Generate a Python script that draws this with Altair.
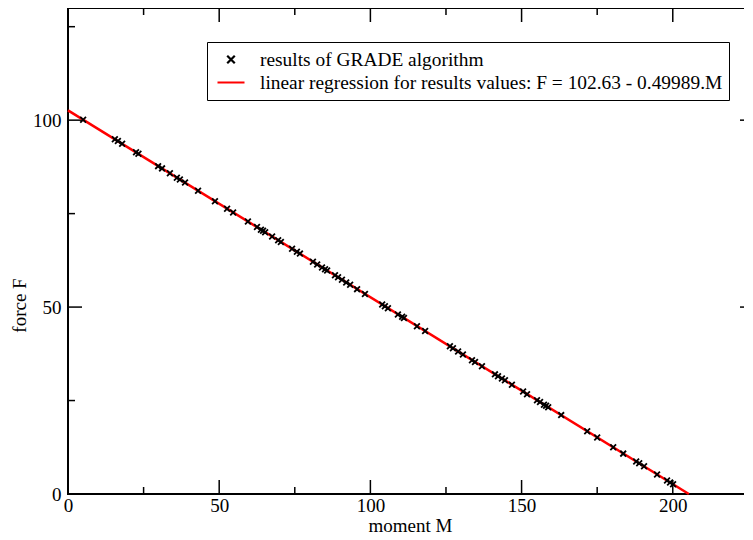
import altair as alt
import pandas as pd

# Results of GRADE algorithm (moment M, force F)
moment = [5.0, 15.5, 16.5, 17.9, 22.5, 23.3, 29.8, 31.1, 33.7, 36.0, 37.0, 38.7,
          43.0, 48.6, 52.6, 54.6, 59.5, 62.5, 63.8, 64.5, 65.2, 67.5, 69.5, 70.4,
          74.1, 75.7, 76.7, 81.0, 82.4, 84.0, 85.0, 85.7, 88.3, 89.3, 90.6, 92.0,
          93.3, 95.6, 98.2, 103.9, 104.8, 105.8, 109.1, 110.5, 111.1, 115.4, 118.1,
          126.3, 127.3, 129.0, 130.6, 133.6, 134.6, 136.9, 141.2, 142.2, 143.5,
          144.5, 146.8, 150.5, 151.8, 155.1, 156.1, 157.4, 158.1, 158.8, 163.1,
          171.7, 175.0, 180.3, 183.6, 187.9, 188.9, 190.5, 194.8, 198.1, 199.1, 200.1]
force = [100.1, 94.9, 94.4, 93.7, 91.4, 91.0, 87.7, 87.1, 85.8, 84.6, 84.1, 83.3,
         81.1, 78.3, 76.3, 75.3, 72.9, 71.4, 70.7, 70.4, 70.0, 68.9, 67.9, 67.4,
         65.6, 64.8, 64.3, 62.1, 61.4, 60.6, 60.1, 59.8, 58.5, 58.0, 57.3, 56.6,
         56.0, 54.8, 53.5, 50.7, 50.2, 49.7, 48.0, 47.4, 47.1, 44.9, 43.6,
         39.5, 39.0, 38.1, 37.3, 35.8, 35.3, 34.2, 32.0, 31.5, 30.9,
         30.4, 29.2, 27.4, 26.7, 25.1, 24.6, 23.9, 23.6, 23.2, 21.1,
         16.8, 15.1, 12.5, 10.8, 8.7, 8.2, 7.4, 5.2, 3.6, 3.1, 2.6]

# Regression line endpoints: F = 102.63 - 0.49989.M
reg_m = [0.0, 205.31]
reg_f = [102.63, 0.0]

series_pts = "results of GRADE algorithm"
series_reg = "linear regression for results values: F = 102.63 - 0.49989.M"

x_major = [0, 50, 100, 150, 200]
x_minor = [25, 75, 125, 175, 225]
y_major = [0, 50, 100]
y_minor = [25, 75, 125]

W, H = 684, 486
XDOM = [0, 226.2]
YDOM = [0, 130]
FONT = "Liberation Serif"

pts = pd.DataFrame({"M": moment, "F": force, "series": series_pts})
reg = pd.DataFrame({"M": reg_m, "F": reg_f, "series": series_reg})

xs = alt.Scale(domain=XDOM, nice=False, zero=False)
ys = alt.Scale(domain=YDOM, nice=False, zero=False)

x_axis = alt.Axis(values=x_major, format="d", ticks=False, domain=False, grid=False,
                  labelFont=FONT, labelFontSize=19, labelColor="black", labelPadding=2,
                  labelFlush=False,
                  title="moment M", titleFont=FONT, titleFontSize=19, titleFontWeight="normal",
                  titleColor="black", titleBaseline="alphabetic", titleY=37)
y_axis = alt.Axis(values=y_major, format="d", ticks=False, domain=False, grid=False,
                  labelFont=FONT, labelFontSize=19, labelColor="black", labelPadding=7,
                  labelFlush=False,
                  title="force F", titleFont=FONT, titleFontSize=19, titleFontWeight="normal",
                  titleColor="black", titleAngle=270, titleX=-43, titleY=297,
                  titleAlign="center", titleBaseline="alphabetic")

shape_scale = alt.Scale(domain=[series_pts, series_reg],
                        range=["M-0.28,-0.28L0.28,0.28M-0.28,0.28L0.28,-0.28", "M-1,0L1,0"])
color_scale = alt.Scale(domain=[series_pts, series_reg], range=["black", "red"])

legend = alt.Legend(title=None, orient="none", legendX=139, legendY=34,
                    labelFont=FONT, labelFontSize=19.4, labelColor="black", labelLimit=700,
                    labelOffset=14, symbolSize=729, symbolStrokeWidth=2.2,
                    strokeColor="black", fillColor="white", padding=6,
                    symbolOffset=3, rowPadding=0, clipHeight=23, cornerRadius=0)

points = alt.Chart(pts).mark_point(filled=False, size=420, strokeWidth=1.8, opacity=1).encode(
    x=alt.X("M:Q", scale=xs, axis=x_axis),
    y=alt.Y("F:Q", scale=ys, axis=y_axis),
    shape=alt.Shape("series:N", scale=shape_scale, legend=legend),
    color=alt.Color("series:N", scale=color_scale, legend=legend),
)

line = alt.Chart(reg).mark_line(strokeWidth=2.5).encode(
    x=alt.X("M:Q", scale=xs),
    y=alt.Y("F:Q", scale=ys),
    color=alt.Color("series:N", scale=color_scale, legend=legend),
)

# Inward ticks (Grace style) on all four sides
xt_major = pd.DataFrame({"v": x_major})
xt_minor = pd.DataFrame({"v": x_minor})
yt_major = pd.DataFrame({"v": y_major})
yt_minor = pd.DataFrame({"v": y_minor})

def xticks(df, y0, y1):
    return alt.Chart(df).mark_rule(color="black", strokeWidth=1.5).encode(
        x=alt.X("v:Q", scale=xs), y=alt.value(y0), y2=alt.value(y1))

def yticks(df, x0, x1):
    return alt.Chart(df).mark_rule(color="black", strokeWidth=1.5).encode(
        y=alt.Y("v:Q", scale=ys), x=alt.value(x0), x2=alt.value(x1))

ticks = [
    xticks(xt_major, H, H - 14), xticks(xt_minor, H, H - 7),
    xticks(xt_major, 0, 14), xticks(xt_minor, 0, 7),
    yticks(yt_major, 0, 14), yticks(yt_minor, 0, 7),
    yticks(yt_major, W - 3, W - 12), yticks(yt_minor, W - 3, W - 7),
]

chart = alt.layer(*ticks, line, points).properties(
    width=W, height=H,
    autosize=alt.AutoSizeParams(type="none"),
    padding={"left": 60, "top": 0, "right": -8, "bottom": 38},
    background="white",
).configure_view(stroke="black", strokeWidth=2)

chart.save("out.html", embed_options={"renderer": "svg", "actions": False})
